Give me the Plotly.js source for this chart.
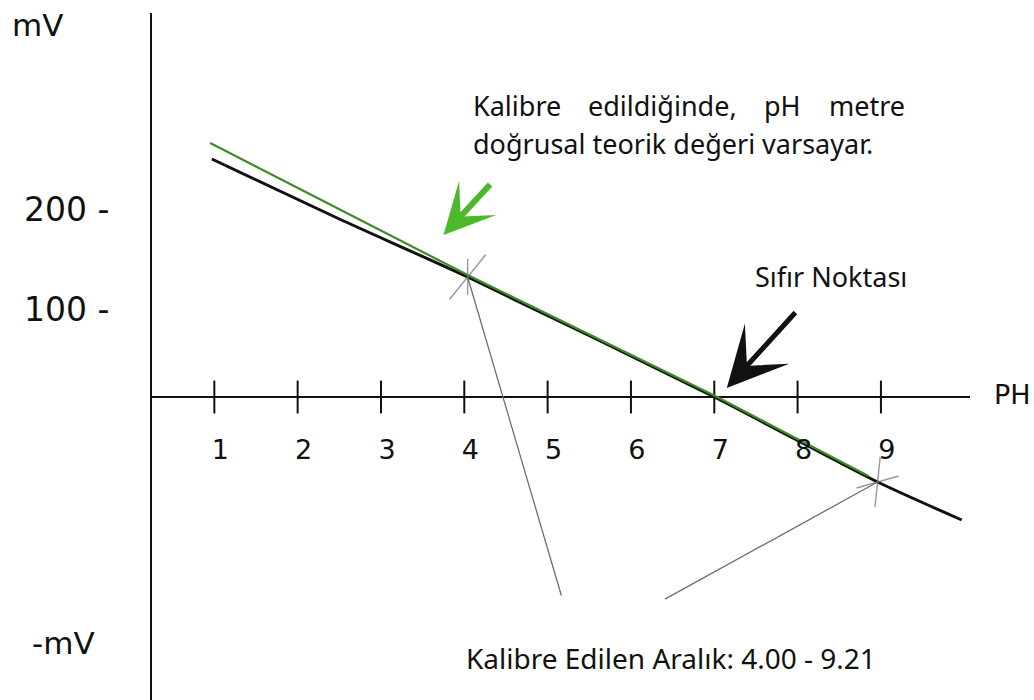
<!DOCTYPE html>
<html>
<head>
<meta charset="utf-8">
<script src="https://cdn.plot.ly/plotly-3.0.1.min.js"></script>
<style>
html,body{margin:0;padding:0;background:#ffffff;}
#chart{width:1034px;height:700px;}
</style>
</head>
<body>
<div id="chart"></div>
<script>
// ---- data ----
const phTicks = [1, 2, 3, 4, 5, 6, 7, 8, 9];
const phTickZero = [0, 0, 0, 0, 0, 0, 0, 0, 0];

// real electrode response (black)
const measuredPH = [0.97, 2.5, 4.04, 7.0, 8.96, 9.97];
const measuredMV = [238, 178, 120, 0, -85, -123];

// theoretical linear response assumed after calibration (green)
const theoryPH = [0.95, 4.04, 7.0, 8.85];
const theoryMV = [254, 122, 1.5, -79];

// calibration points
const calPH = [4.04, 8.96];
const calMV = [120, -85];

// y-axis labels
const mvTickVals = [200, 100];
const mvTickText = ['200 -', '100 -'];

// ---- layout helpers (pixel -> paper) ----
const W = 1034, H = 700, L = 152, R = 64, T = 13, B = 0;
const PW = W - L - R, PHt = H - T - B;
const px = x => (x - L) / PW;
const py = y => (H - B - y) / PHt;

const txtFont = {family: 'Noto Sans', size: 27, color: '#111111'};
const axFont = {family: 'DejaVu Sans', size: 33, color: '#111111'};
const grey = '#6e6e6e';

const traces = [
  { // pH tick marks crossing the axis
    x: phTicks, y: phTickZero, mode: 'markers', type: 'scatter',
    marker: {symbol: 'line-ns-open', size: 23.5, color: '#111', line: {width: 2, color: '#111'}},
    hoverinfo: 'skip', showlegend: false
  },
  { // measured line
    x: measuredPH, y: measuredMV, mode: 'lines', type: 'scatter',
    line: {color: '#111111', width: 3, shape: 'spline', smoothing: 0.6},
    hoverinfo: 'skip', showlegend: false
  },
  { // theoretical line
    x: theoryPH, y: theoryMV, mode: 'lines', type: 'scatter',
    line: {color: '#3f8c24', width: 2.2},
    hoverinfo: 'skip', showlegend: false
  },
  { // calibration marks: near-vertical strokes
    x: calPH, y: calMV, mode: 'markers', type: 'scatter',
    marker: {symbol: 'line-ns-open', size: [26, 36], angle: [0, 6], color: grey, line: {width: 1.4, color: grey}},
    hoverinfo: 'skip', showlegend: false
  },
  { // calibration marks: diagonal strokes
    x: calPH, y: calMV, mode: 'markers', type: 'scatter',
    marker: {symbol: 'line-ne-open', size: [41, 31], angle: [-6, 29], color: grey, line: {width: 1.4, color: grey}},
    hoverinfo: 'skip', showlegend: false
  }
];

const annotations = [
  // axis captions
  {xref: 'paper', yref: 'paper', x: px(10), y: py(25), xanchor: 'left', yanchor: 'middle',
   text: 'mV', showarrow: false, font: {family: 'DejaVu Sans', size: 31, color: '#111'}},
  {xref: 'paper', yref: 'paper', x: px(30), y: py(643), xanchor: 'left', yanchor: 'middle',
   text: '-mV', showarrow: false, font: {family: 'DejaVu Sans', size: 31, color: '#111'}},
  {xref: 'paper', yref: 'paper', x: px(992), y: py(394), xanchor: 'left', yanchor: 'middle',
   text: 'PH', showarrow: false, font: {family: 'DejaVu Sans', size: 27, color: '#111'}},

  // justified first line of the note
  {xref: 'paper', yref: 'paper', x: px(471), y: py(106), xanchor: 'left', yanchor: 'middle',
   text: 'Kalibre', showarrow: false, font: txtFont},
  {xref: 'paper', yref: 'paper', x: px(586), y: py(106), xanchor: 'left', yanchor: 'middle',
   text: 'edildiğinde,', showarrow: false, font: txtFont},
  {xref: 'paper', yref: 'paper', x: px(762), y: py(106), xanchor: 'left', yanchor: 'middle',
   text: 'pH', showarrow: false, font: txtFont},
  {xref: 'paper', yref: 'paper', x: px(907), y: py(106), xanchor: 'right', yanchor: 'middle',
   text: 'metre', showarrow: false, font: txtFont},
  {xref: 'paper', yref: 'paper', x: px(471), y: py(144), xanchor: 'left', yanchor: 'middle',
   text: 'doğrusal teorik değeri varsayar.', showarrow: false, font: txtFont},

  {xref: 'paper', yref: 'paper', x: px(753), y: py(276), xanchor: 'left', yanchor: 'middle',
   text: 'Sıfır Noktası', showarrow: false, font: txtFont},
  {xref: 'paper', yref: 'paper', x: px(464), y: py(658), xanchor: 'left', yanchor: 'middle',
   text: 'Kalibre Edilen Aralık: 4.00 - 9.21', showarrow: false,
   font: {family: 'Noto Sans', size: 28, color: '#111111'}},

  // green arrow pointing at the theoretical line
  {xref: 'x', yref: 'y', x: 3.75, y: 162, ax: 48, ay: -52, text: '', showarrow: true,
   arrowhead: 3, arrowsize: 1.4, arrowwidth: 6, arrowcolor: '#4cb82c'},
  // black arrow pointing at the zero point
  {xref: 'x', yref: 'y', x: 7.15, y: 9, ax: 70, ay: -77, text: '', showarrow: true,
   arrowhead: 3, arrowsize: 2.0, arrowwidth: 5, arrowcolor: '#111111'},
  // grey leader lines to calibration points
  {xref: 'x', yref: 'y', axref: 'x', ayref: 'y', x: calPH[0], y: calMV[0], ax: 5.17, ay: -200,
   text: '', showarrow: true, arrowhead: 0, arrowwidth: 1.3, arrowcolor: grey},
  {xref: 'x', yref: 'y', axref: 'x', ayref: 'y', x: calPH[1], y: calMV[1], ax: 6.39, ay: -203,
   text: '', showarrow: true, arrowhead: 0, arrowwidth: 1.3, arrowcolor: grey}
];

const layout = {
  width: W, height: H,
  margin: {l: L, r: R, t: T, b: B, pad: 0},
  paper_bgcolor: '#ffffff', plot_bgcolor: '#ffffff',
  showlegend: false,
  xaxis: {
    range: [0.252, 10.069], anchor: 'free', position: py(397),
    showline: false, showgrid: false, zeroline: false,
    tickmode: 'array', tickvals: phTicks, ticktext: phTicks.map(String),
    ticks: '', ticklabelstandoff: 34, ticklabelshift: 6,
    tickfont: {family: 'DejaVu Sans', size: 27, color: '#111'},
    fixedrange: true
  },
  yaxis: {
    range: [-303, 384],
    showline: true, linecolor: '#111', linewidth: 2,
    showgrid: false,
    zeroline: true, zerolinecolor: '#111', zerolinewidth: 2.7,
    tickmode: 'array', tickvals: mvTickVals, ticktext: mvTickText,
    ticks: '', ticklabelstandoff: 34, ticklabelshift: 12,
    tickfont: axFont,
    fixedrange: true
  },
  annotations: annotations
};

Plotly.newPlot('chart', traces, layout, {staticPlot: true, displayModeBar: false});
</script>
</body>
</html>
